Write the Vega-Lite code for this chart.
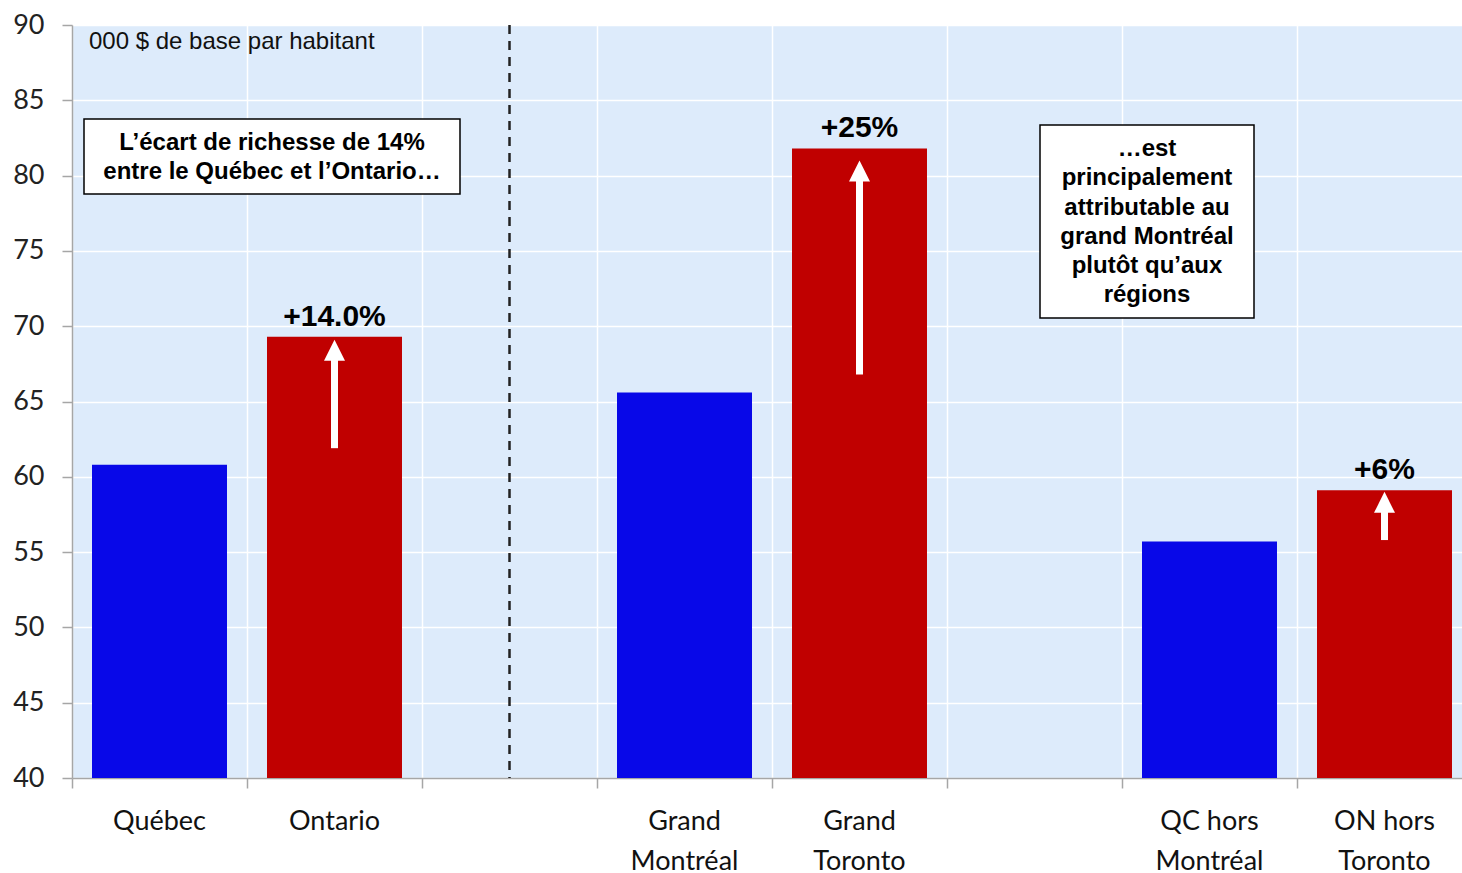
{
  "$schema": "https://vega.github.io/schema/vega-lite/v6.json",
  "width": 1390,
  "height": 753,
  "autosize": {"type": "none"},
  "padding": {"left": 72, "top": 25, "right": 0, "bottom": 95},
  "background": "white",
  "config": {
    "view": {"fill": "#DDEBFB", "stroke": null},
    "font": "Lato"
  },
  "data": {
    "values": [
      {"cat": "Québec", "value": 60.8, "group": "QC"},
      {"cat": "Ontario", "value": 69.3, "group": "ON", "label": "+14.0%", "arrow_from": 61.9, "arrow_to": 69.1},
      {"cat": "Grand Montréal", "value": 65.6, "group": "QC"},
      {"cat": "Grand Toronto", "value": 81.8, "group": "ON", "label": "+25%", "arrow_from": 66.8, "arrow_to": 81.0},
      {"cat": "QC hors Montréal", "value": 55.7, "group": "QC"},
      {"cat": "ON hors Toronto", "value": 59.1, "group": "ON", "label": "+6%", "arrow_from": 55.8, "arrow_to": 59.0}
    ]
  },
  "layer": [
    {
      "mark": {"type": "bar", "width": {"band": 0.7714}, "clip": true},
      "encoding": {
        "x": {
          "field": "cat",
          "type": "nominal",
          "sort": null,
          "scale": {
            "domain": ["Québec", "Ontario", "sep1", "Grand Montréal", "Grand Toronto", "sep2", "QC hors Montréal", "ON hors Toronto"],
            "range": [0, 1400],
            "paddingInner": 0,
            "paddingOuter": 0
          },
          "axis": {
            "title": null,
            "bandPosition": 0,
            "labelOffset": 0,
            "grid": true,
            "gridColor": "#FFFFFF",
            "gridWidth": 1.5,
            "domainColor": "#A6A6A6",
            "domainWidth": 1.5,
            "tickColor": "#A6A6A6",
            "tickWidth": 1.5,
            "tickSize": 10,
            "labelAngle": 0,
            "labelFont": "Lato",
            "labelFontSize": 27,
            "labelColor": "#111111",
            "labelPadding": 20,
            "labelLineHeight": 40,
            "labelExpr": "indexof(datum.value,'sep')==0 ? '' : (lastindexof(datum.value,' ') < 0 ? datum.value : [substring(datum.value,0,lastindexof(datum.value,' ')), substring(datum.value,lastindexof(datum.value,' ')+1)])"
          }
        },
        "y": {
          "field": "value",
          "type": "quantitative",
          "scale": {"domain": [40, 90], "nice": false, "zero": false},
          "axis": {
            "title": null,
            "tickCount": 10,
            "grid": true,
            "gridColor": "#FFFFFF",
            "gridWidth": 1.5,
            "domainColor": "#A6A6A6",
            "domainWidth": 1.5,
            "tickColor": "#A6A6A6",
            "tickWidth": 1.5,
            "tickSize": 10,
            "labelFont": "Lato",
            "labelFontSize": 27,
            "labelColor": "#222222",
            "labelPadding": 18
          }
        },
        "color": {
          "field": "group",
          "type": "nominal",
          "scale": {"domain": ["QC", "ON"], "range": ["#0808E8", "#C00000"]},
          "legend": null
        }
      }
    },
    {
      "transform": [{"filter": "datum.label != null"}],
      "mark": {"type": "text", "font": "Liberation Sans", "fontWeight": "bold", "fontSize": 30, "color": "#000000", "baseline": "alphabetic", "dy": -11},
      "encoding": {
        "x": {"field": "cat", "type": "nominal", "sort": null},
        "y": {"field": "value", "type": "quantitative"},
        "text": {"field": "label"}
      }
    },
    {
      "transform": [{"filter": "datum.label != null"}],
      "mark": {"type": "rule", "color": "#FFFFFF", "strokeWidth": 7, "y2Offset": 15},
      "encoding": {
        "x": {"field": "cat", "type": "nominal", "sort": null},
        "y": {"field": "arrow_from", "type": "quantitative"},
        "y2": {"field": "arrow_to"}
      }
    },
    {
      "transform": [{"filter": "datum.label != null"}],
      "mark": {"type": "point", "shape": "M0,-1L1,1L-1,1Z", "size": 441, "filled": true, "fill": "#FFFFFF", "opacity": 1, "strokeWidth": 0, "yOffset": 10.5},
      "encoding": {
        "x": {"field": "cat", "type": "nominal", "sort": null},
        "y": {"field": "arrow_to", "type": "quantitative"}
      }
    },
    {
      "data": {"values": [{"cat": "sep1"}]},
      "mark": {"type": "rule", "color": "#222222", "strokeWidth": 2.5, "strokeDash": [9, 7]},
      "encoding": {
        "x": {"field": "cat", "type": "nominal", "sort": null}
      }
    },
    {
      "data": {"values": [{"note": "L’écart de richesse de 14%\nentre le Québec et l’Ontario…"}]},
      "layer": [
        {
          "mark": {"type": "point", "shape": "M-1,-0.1995L1,-0.1995L1,0.1995L-1,0.1995Z", "size": 141376, "filled": true, "fill": "#FFFFFF", "stroke": "#000000", "strokeWidth": 1.5, "opacity": 1, "xOffset": -62.5},
          "encoding": {
            "x": {"datum": "Ontario", "type": "nominal"},
            "y": {"datum": 81.27, "type": "quantitative"}
          }
        },
        {
          "mark": {"type": "text", "font": "Liberation Sans", "fontWeight": "bold", "fontSize": 24, "color": "#000000", "lineBreak": "\n", "lineHeight": 29, "align": "center", "baseline": "middle", "xOffset": -62.5},
          "encoding": {
            "x": {"datum": "Ontario", "type": "nominal"},
            "y": {"datum": 82.16, "type": "quantitative"},
            "text": {"field": "note"}
          }
        }
      ]
    },
    {
      "data": {"values": [{"note": "…est\nprincipalement\nattributable au\ngrand Montréal\nplutôt qu’aux\nrégions"}]},
      "layer": [
        {
          "mark": {"type": "point", "shape": "M-1,-0.902L1,-0.902L1,0.902L-1,0.902Z", "size": 45796, "filled": true, "fill": "#FFFFFF", "stroke": "#000000", "strokeWidth": 1.5, "opacity": 1, "xOffset": -62.5},
          "encoding": {
            "x": {"datum": "QC hors Montréal", "type": "nominal"},
            "y": {"datum": 76.95, "type": "quantitative"}
          }
        },
        {
          "mark": {"type": "text", "font": "Liberation Sans", "fontWeight": "bold", "fontSize": 24, "color": "#000000", "lineBreak": "\n", "lineHeight": 29.3, "align": "center", "baseline": "middle", "xOffset": -62.5},
          "encoding": {
            "x": {"datum": "QC hors Montréal", "type": "nominal"},
            "y": {"datum": 81.77, "type": "quantitative"},
            "text": {"field": "note"}
          }
        }
      ]
    },
    {
      "data": {"values": [{"note": "000 $ de base par habitant"}]},
      "mark": {"type": "text", "font": "Liberation Sans", "fontSize": 24, "color": "#111111", "align": "left", "baseline": "middle", "xOffset": -70.5},
      "encoding": {
        "x": {"datum": "Québec", "type": "nominal"},
        "y": {"datum": 88.87, "type": "quantitative"},
        "text": {"field": "note"}
      }
    }
  ]
}
